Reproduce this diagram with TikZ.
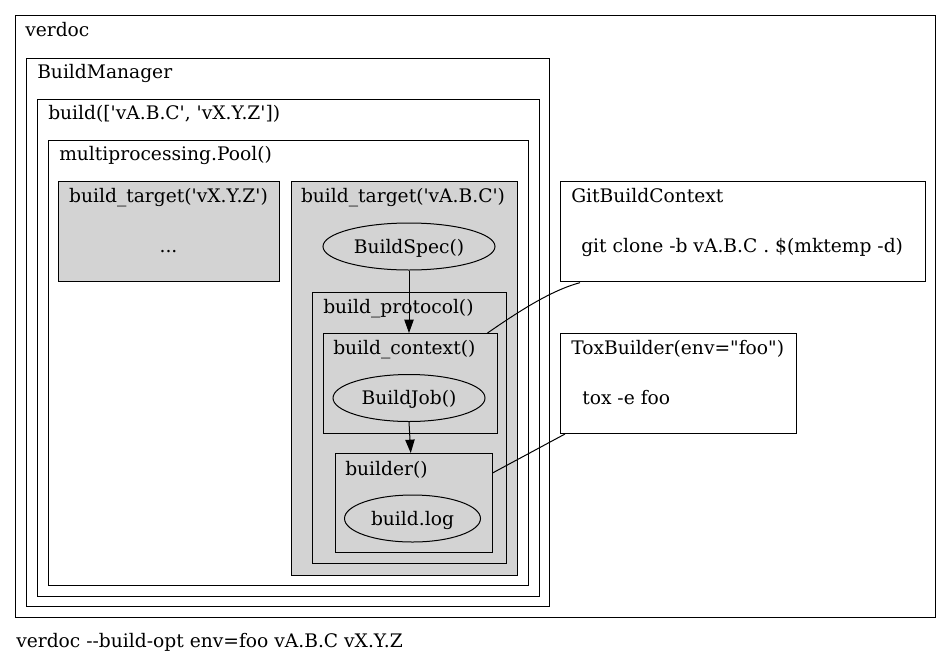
\documentclass[tikz,border=0pt]{standalone}
\usepackage{fontspec}
\setmainfont{DejaVu Serif}[Ligatures=TeXReset]
\usetikzlibrary{arrows.meta,shapes.geometric}
\definecolor{clgray}{HTML}{D3D3D3}
\tikzset{
  cluster/.style={draw=black, line width=0.75pt, inner sep=0pt, anchor=north west},
  gcluster/.style={cluster, fill=clgray},
  lbl/.style={inner sep=0pt, anchor=base west, font=\fontsize{14}{16}\selectfont},
  clbl/.style={lbl, anchor=base},
  oval/.style={draw=black, line width=0.75pt, ellipse, inner sep=0pt},
  edge/.style={draw=black, line width=0.75pt},
  arr/.style={edge, -{Triangle[length=10pt,width=7pt]}},
}
\begin{document}
\begin{tikzpicture}[x=0.75pt,y=-0.75pt]
\useasboundingbox (0,0) rectangle (952,664);
% clusters
\node[cluster, minimum width=920*0.75pt, minimum height=602*0.75pt] (verdoc) at (15,15) {};
\node[cluster, minimum width=523*0.75pt, minimum height=548*0.75pt] (bm) at (26,58) {};
\node[cluster, minimum width=502*0.75pt, minimum height=497*0.75pt] (build) at (37,99) {};
\node[cluster, minimum width=480*0.75pt, minimum height=445*0.75pt] (pool) at (48,140) {};
\node[gcluster, minimum width=221*0.75pt, minimum height=100*0.75pt] (btxyz) at (58,181) {};
\node[gcluster, minimum width=226*0.75pt, minimum height=394*0.75pt] (btabc) at (290.5,181) {};
\node[gcluster, minimum width=194*0.75pt, minimum height=271*0.75pt] (proto) at (312,292) {};
\node[gcluster, minimum width=174*0.75pt, minimum height=100*0.75pt] (ctx) at (322.5,333) {};
\node[gcluster, minimum width=157*0.75pt, minimum height=99*0.75pt] (bld) at (334.5,453) {};
\node[cluster, minimum width=365*0.75pt, minimum height=100*0.75pt] (git) at (560,181) {};
\node[cluster, minimum width=236*0.75pt, minimum height=100*0.75pt] (tox) at (560,333) {};
% labels
\node[lbl] (lverdoc) at (25,36) {verdoc};
\node[lbl] (lbm) at (37,78) {BuildManager};
\node[lbl] (lbuild) at (48,119) {build(['vA.B.C', 'vX.Y.Z'])};
\node[lbl] (lpool) at (59,160) {multiprocessing.Pool()};
\node[clbl] (lbtxyz) at (168.5,202) {build\_target('vX.Y.Z')};
\node[clbl] (dots) at (168.5,252) {...};
\node[clbl] (lbtabc) at (403,202) {build\_target('vA.B.C')};
\node[lbl] (lproto) at (323,313) {build\_protocol()};
\node[lbl] (lctx) at (333,354) {build\_context()};
\node[lbl] (lbld) at (345,475) {builder()};
\node[lbl] (lgit) at (571,202) {GitBuildContext};
\node[lbl] (lgitcmd) at (581,252) {git clone -b vA.B.C . \$(mktemp -d)};
\node[lbl] (ltox) at (571,354) {ToxBuilder(env="foo")};
\node[lbl] (ltoxcmd) at (582,404) {tox -e foo};
\node[lbl] (cmdline) at (16,647) {verdoc --build-opt env=foo vA.B.C vX.Y.Z};
% ellipses
\node[oval, fill=clgray, minimum width=172*0.75pt, minimum height=47*0.75pt] (spec) at (409,246.5) {};
\node[clbl] at (409,253) {BuildSpec()};
\node[oval, fill=clgray, minimum width=152*0.75pt, minimum height=47*0.75pt] (job) at (409,398) {};
\node[clbl] at (409,404) {BuildJob()};
\node[oval, fill=clgray, minimum width=136*0.75pt, minimum height=47*0.75pt] (log) at (412.5,518.5) {};
\node[clbl] at (412.5,525) {build.log};
% edges
\draw[arr] (spec.south) -- (spec.south |- ctx.north);
\draw[arr] (job.south) -- ([xshift=1.3pt]job.south |- bld.north);
\draw[edge] ([xshift=-7.5pt]ctx.north east) .. controls +(29,-20) and +(-30,8) .. ([xshift=15pt,yshift=-0.5pt]git.south west);
\draw[edge] ([yshift=-15pt]bld.north east) -- ([xshift=3.75pt]tox.south west);
\end{tikzpicture}
\end{document}
